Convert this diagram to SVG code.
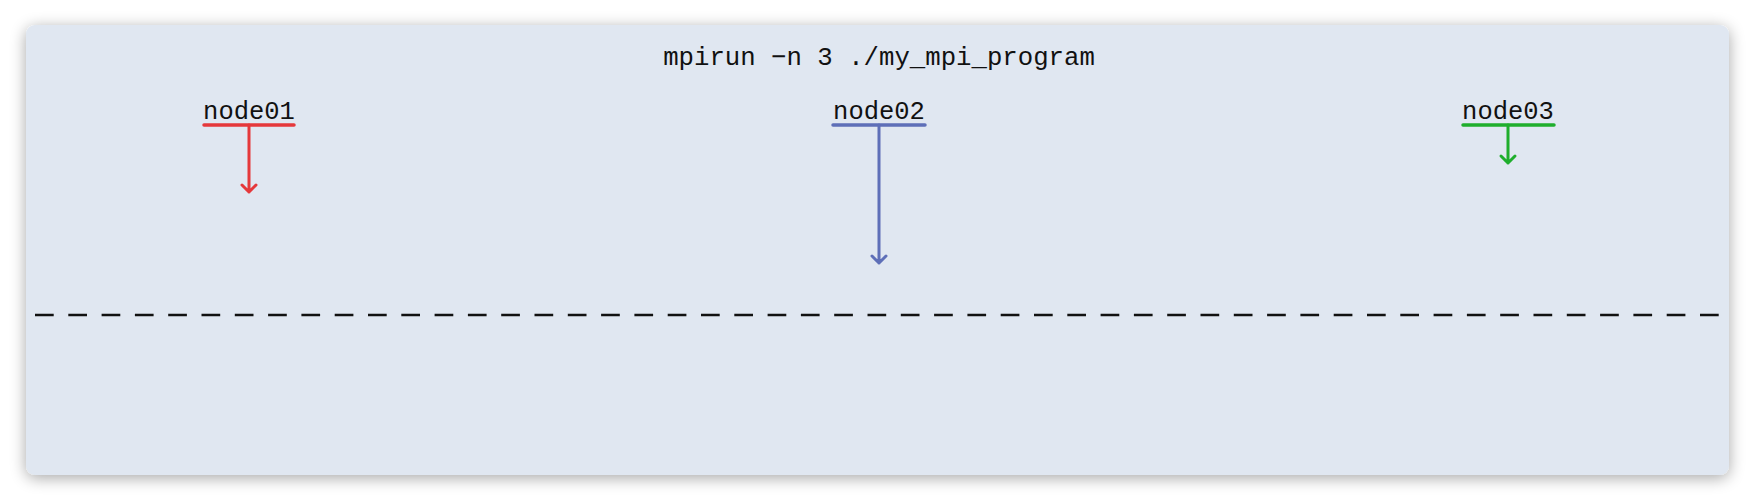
<svg xmlns="http://www.w3.org/2000/svg" width="1755" height="501" viewBox="0 0 1755 501">
<defs>
<filter id="shadow" x="-5%" y="-20%" width="110%" height="140%">
<feGaussianBlur in="SourceAlpha" stdDeviation="8"/>
<feOffset dx="0" dy="3"/>
<feComponentTransfer><feFuncA type="linear" slope="0.35"/></feComponentTransfer>
<feMerge><feMergeNode/><feMergeNode in="SourceGraphic"/></feMerge>
</filter>
</defs>
<style>
text{font-family:"Liberation Mono","DejaVu Sans Mono",monospace;font-size:25.5px;fill:#111}
.bar{stroke-width:3.5;stroke-linecap:round;fill:none}
.arr{stroke-width:3;stroke-linecap:round;stroke-linejoin:round;fill:none}
.red{stroke:#e5383b}.blue{stroke:#5e6fb8}.green{stroke:#1fae2d}
</style>
<rect width="1755" height="501" fill="#ffffff"/>
<rect id="panel" x="26" y="25" width="1703" height="450" rx="9" fill="#e0e7f1" filter="url(#shadow)"/>
<text x="879" y="65" text-anchor="middle" style="font-size:25.7px">mpirun −n 3 ./my_mpi_program</text>
<g id="node01">
<text x="249" y="119" text-anchor="middle">node01</text>
<line class="bar red" x1="204" y1="125" x2="294" y2="125"/>
</g>
<g id="node02">
<text x="879" y="119" text-anchor="middle">node02</text>
<line class="bar blue" x1="833" y1="125" x2="925" y2="125"/>
</g>
<g id="node03">
<text x="1508" y="119" text-anchor="middle">node03</text>
<line class="bar green" x1="1463" y1="125" x2="1554" y2="125"/>
</g>
<g id="connectors">
<path class="arr red" d="M249 125 V192 M242 185 L249 192 L256 185"/>
<path class="arr blue" d="M879 125 V263 M872 256 L879 263 L886 256"/>
<path class="arr green" d="M1508 125 V163 M1501 156 L1508 163 L1515 156"/>
<line x1="35" y1="315" x2="1722" y2="315" stroke="#111" stroke-width="2.4" stroke-dasharray="18.7 14.6"/>
</g>
</svg>
